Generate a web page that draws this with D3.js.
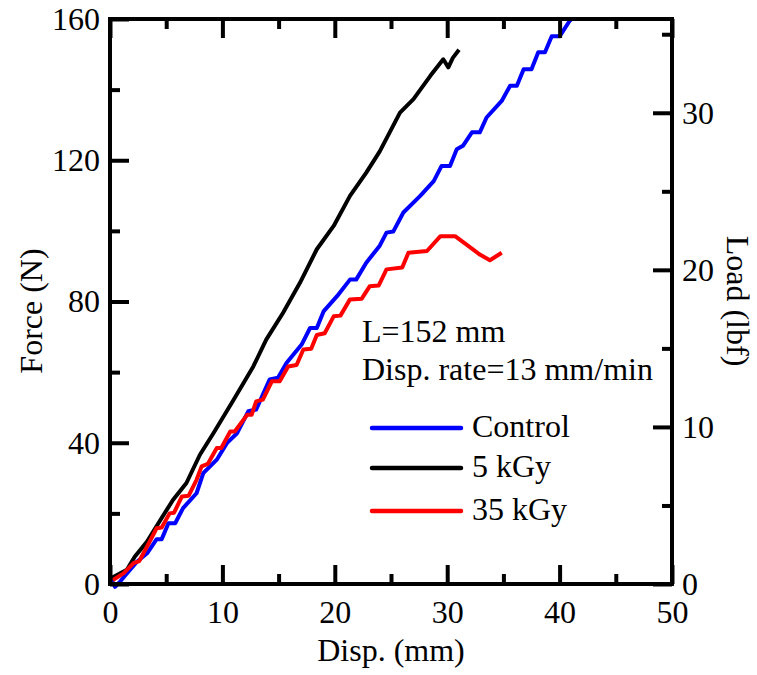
<!DOCTYPE html>
<html>
<head>
<meta charset="utf-8">
<script src="https://cdn.jsdelivr.net/npm/d3@7"></script>
</head>
<body style="margin:0">
<svg id="chart" width="757" height="675" style="font-family: Liberation Serif"></svg>
<script>
// Force vs. displacement, three dose levels
const xMajor = [0, 10, 20, 30, 40, 50];
const xMinor = [5, 15, 25, 35, 45];
const yMajor = [0, 40, 80, 120, 160];
const yMinor = [20, 60, 100, 140];
const lbfMajor = [0, 10, 20, 30];
const lbfMinor = [5, 15, 25, 35];
const N_PER_LBF = 4.44822;

const seriesNames = ['Control', '5 kGy', '35 kGy'];
const seriesColors = ['#0000ff', '#000000', '#ff0000'];

// [disp (mm), force (N)]
const control = [
  [0, 2], [0.45, -0.8], [0.9, 0.7], [1.5, 3.0], [2.4, 6.3], [3.3, 8.7], [4.15, 12.7], [4.6, 12.7],
  [5.2, 17.2], [5.8, 17.2], [6.5, 21.5], [7.7, 25.7], [8.3, 31.4], [9.5, 35.2], [10.4, 39.9],
  [11.3, 42.7], [12.3, 48.9], [13, 49.4], [14.2, 57.9], [14.95, 58.4], [15.7, 62.6], [17.05, 67.8],
  [17.8, 72.5], [18.4, 72.5], [19, 77.2], [20.2, 81.5], [21.35, 86.2], [21.9, 86.2], [22.8, 91],
  [24, 95.8], [24.6, 99.5], [25.2, 99.8], [26.1, 105.2], [27.6, 109.9], [28.8, 114.1], [29.5, 118.4],
  [30.25, 118.4], [30.85, 123.1], [31.4, 124.1], [32.2, 127.9], [32.9, 127.9], [33.5, 132.1],
  [34.85, 136.8], [35.6, 141.1], [36.2, 141.1], [36.8, 145.8], [37.5, 145.8], [38.1, 150.6],
  [38.7, 150.6], [39.3, 155.1], [40, 155.1], [40.9, 159.5], [41.1, 160],
];
const kGy5 = [
  [0, 1.5], [1.5, 4], [2.2, 7.7], [3.3, 12], [4.4, 17.7], [5.6, 23.8], [6.8, 28.6], [8.0, 36.6],
  [9.2, 42.7], [11, 52.2], [12.75, 61.6], [13.9, 69.2], [15.4, 76.8], [16.9, 85.3], [18.4, 94.8],
  [19.9, 101.4], [21.35, 109.9], [22.8, 116.5], [24, 122.5], [25.8, 133.5], [27, 137.3],
  [28.5, 143.9], [29.65, 148.6], [30.1, 146.3], [30.5, 149], [31.05, 151.3],
];
const kGy35 = [
  [0.25, 1.1], [1.2, 3], [2.1, 5.9], [2.6, 6.5], [3.3, 10.6], [4.15, 15.8], [4.6, 16], [5.3, 20],
  [5.7, 20.2], [6.4, 24.8], [7.0, 25], [7.7, 29.5], [8.15, 33.3], [8.7, 34], [9.5, 38.5], [9.9, 38.5],
  [10.7, 43.2], [11.1, 43.2], [12.2, 47.9], [12.6, 47.9], [13, 51.7], [13.6, 52.2], [14.4, 57.4],
  [15.1, 57.4], [15.85, 61.6], [16.6, 62], [17.2, 66.4], [17.9, 66.6], [18.4, 70.5], [19.1, 71],
  [19.9, 75.8], [20.5, 76], [21.35, 80.6], [22.4, 80.8], [23.1, 84.3], [23.9, 84.5], [24.6, 89.1],
  [26, 89.6], [26.55, 93.8], [28.2, 94.3], [29.4, 98.5], [30.7, 98.5], [31.9, 95.7], [32.9, 93.3],
  [33.8, 91.7], [34.85, 93.8],
];
const series = [control, kGy5, kGy35];

const plot = { left: 110, right: 672, top: 19, bottom: 584 };
const FS = 32;

const svg = d3.select('#chart');

const x = d3.scaleLinear().domain([0, 50]).range([plot.left, plot.right]);
const y = d3.scaleLinear().domain([0, 160]).range([plot.bottom, plot.top]);
const yR = d3.scaleLinear().domain([0, 160 / N_PER_LBF]).range([plot.bottom, plot.top]);

// data lines
const line = d3.line().x((d) => x(d[0])).y((d) => y(d[1]));
svg.append('g')
  .selectAll('path')
  .data(series)
  .join('path')
  .attr('fill', 'none')
  .attr('stroke', (_, i) => seriesColors[i])
  .attr('stroke-width', 4)
  .attr('stroke-linejoin', 'round')
  .attr('d', line);

function label(sel) {
  return sel.style('font-size', FS + 'px').attr('fill', '#000');
}

function styleAxis(g) {
  g.attr('font-family', null).attr('font-size', null);
  g.select('.domain').remove();
  g.selectAll('.tick line').attr('stroke', '#000').attr('stroke-width', 4);
  g.selectAll('.tick text').call(label);
}

// bottom
svg.append('g').attr('transform', `translate(0,${plot.bottom})`)
  .call(d3.axisBottom(x).tickValues(xMajor).tickSizeInner(-19).tickSizeOuter(0).tickPadding(16).tickFormat(d3.format('d')))
  .call(styleAxis);
svg.append('g').attr('transform', `translate(0,${plot.bottom})`)
  .call(d3.axisBottom(x).tickValues(xMinor).tickSizeInner(-10).tickSizeOuter(0).tickFormat(''))
  .call(styleAxis);
// top
svg.append('g').attr('transform', `translate(0,${plot.top})`)
  .call(d3.axisTop(x).tickValues(xMajor).tickSizeInner(-19).tickSizeOuter(0).tickFormat(''))
  .call(styleAxis);
svg.append('g').attr('transform', `translate(0,${plot.top})`)
  .call(d3.axisTop(x).tickValues(xMinor).tickSizeInner(-10).tickSizeOuter(0).tickFormat(''))
  .call(styleAxis);
// left
svg.append('g').attr('transform', `translate(${plot.left},0)`)
  .call(d3.axisLeft(y).tickValues(yMajor).tickSizeInner(-19).tickSizeOuter(0).tickPadding(10).tickFormat(d3.format('d')))
  .call(styleAxis);
svg.append('g').attr('transform', `translate(${plot.left},0)`)
  .call(d3.axisLeft(y).tickValues(yMinor).tickSizeInner(-10).tickSizeOuter(0).tickFormat(''))
  .call(styleAxis);
// right (lbf)
svg.append('g').attr('transform', `translate(${plot.right},0)`)
  .call(d3.axisRight(yR).tickValues(lbfMajor).tickSizeInner(-19).tickSizeOuter(0).tickPadding(10).tickFormat(d3.format('d')))
  .call(styleAxis);
svg.append('g').attr('transform', `translate(${plot.right},0)`)
  .call(d3.axisRight(yR).tickValues(lbfMinor).tickSizeInner(-10).tickSizeOuter(0).tickFormat(''))
  .call(styleAxis);

// frame
svg.append('rect')
  .attr('x', plot.left)
  .attr('y', plot.top)
  .attr('width', plot.right - plot.left)
  .attr('height', plot.bottom - plot.top)
  .attr('fill', 'none')
  .attr('stroke', '#000')
  .attr('stroke-width', 4);

// axis titles
svg.append('text')
  .attr('transform', 'translate(42,311) rotate(-90)')
  .attr('text-anchor', 'middle')
  .call(label)
  .text('Force (N)');
svg.append('text')
  .attr('x', (plot.left + plot.right) / 2)
  .attr('y', 661)
  .attr('text-anchor', 'middle')
  .call(label)
  .text('Disp. (mm)');
svg.append('text')
  .attr('transform', 'translate(727,301) rotate(90)')
  .attr('text-anchor', 'middle')
  .call(label)
  .text('Load (lbf)');

// annotation
svg.append('text').attr('x', 362).attr('y', 342).call(label).text('L=152 mm');
svg.append('text').attr('x', 362).attr('y', 380).call(label).text('Disp. rate=13 mm/min');

// legend
const legend = svg.append('g');
const legendY = [428, 468, 511];
seriesNames.forEach((name, i) => {
  legend.append('line')
    .attr('x1', 372).attr('x2', 461)
    .attr('y1', legendY[i]).attr('y2', legendY[i])
    .attr('stroke', seriesColors[i])
    .attr('stroke-width', 4.5)
    .attr('stroke-linecap', 'round');
  legend.append('text')
    .attr('x', 472)
    .attr('y', legendY[i] + 9)
    .call(label)
    .text(name);
});
</script>
</body>
</html>
